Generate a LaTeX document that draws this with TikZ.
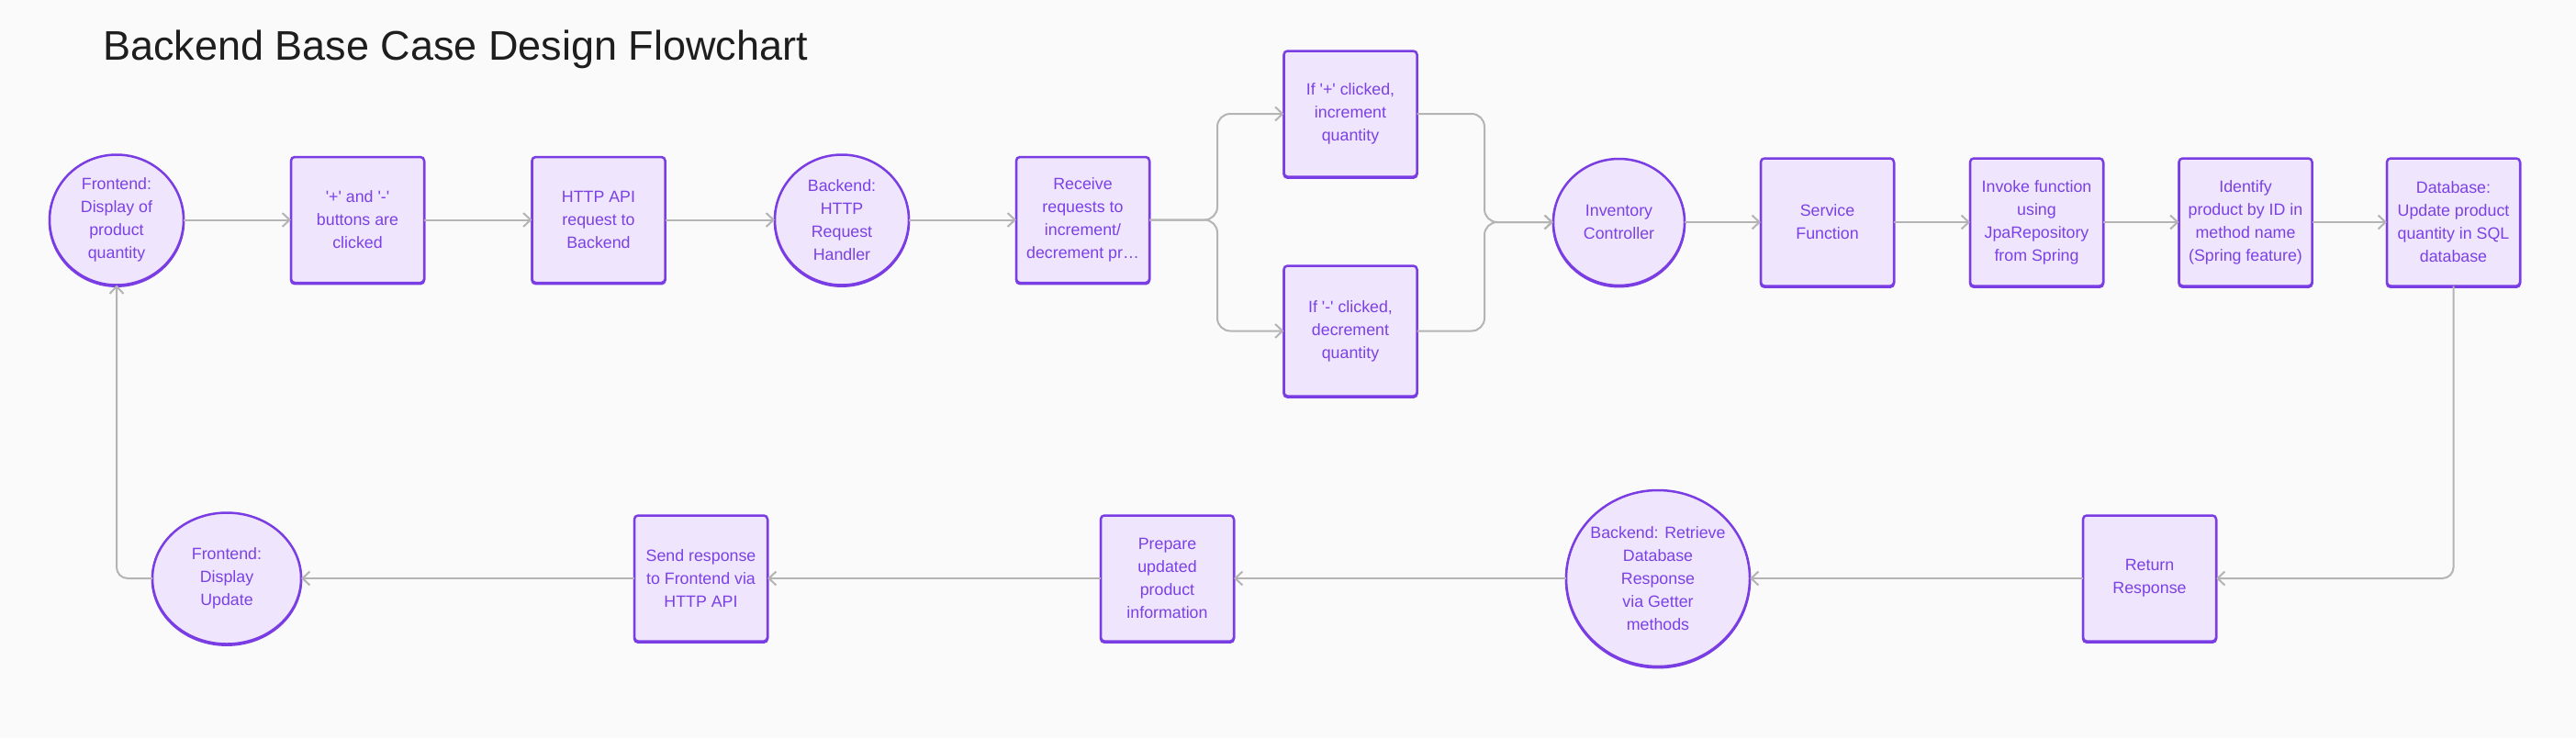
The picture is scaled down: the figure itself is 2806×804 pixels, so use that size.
\documentclass[tikz,border=0pt]{standalone}
\usepackage{fontspec}
\setmainfont{Liberation Sans}
\usetikzlibrary{arrows.meta,shapes.geometric}
\definecolor{bgc}{HTML}{FAFAFA}
\definecolor{pborder}{HTML}{7A3DE3}
\definecolor{pfill}{HTML}{EFE5FD}
\definecolor{ptext}{HTML}{7B41E5}
\definecolor{lineg}{HTML}{B4B4B4}
\definecolor{titlec}{HTML}{1E1E1E}
\newcommand{\sq}{\textquotesingle}
\begin{document}
\begin{tikzpicture}[x=1pt,y=-1pt,
  every node/.style={inner sep=0pt, outer sep=0pt},
  base/.style={draw=pborder, fill=pfill, line width=2.5pt, text=ptext, align=center,
    font=\fontsize{17.8}{25}\selectfont,
    preaction={draw=pborder, line width=2.5pt, transform canvas={yshift=-1.2pt}}},
  boxn/.style={base, rectangle, rounded corners=4pt, minimum width=145pt, minimum height=137pt},
  circn/.style={base, ellipse, minimum width=146pt, minimum height=142pt},
  conn/.style={draw=lineg, line width=2pt, -{Straight Barb[length=8pt,width=15pt]}},
]
\fill[bgc] (0,0) rectangle (2806,804);
\useasboundingbox (0,0) rectangle (2806,804);

\node[anchor=base west, font=\fontsize{45}{50}\selectfont, text=titlec] (title) at (112,65) {Backend Base Case Design Flowchart};

% top row
\node[circn] (fd) at (127,239.5) {Frontend:\\Display of\\product\\quantity};
\node[boxn] (b1) at (389.5,239.5) {\sq+\sq{} and \sq-\sq\\buttons are\\clicked};
\node[boxn] (b2) at (652,239.5) {HTTP API\\request to\\Backend};
\node[circn] (bh) at (917,239.5) {Backend:\\HTTP\\Request\\Handler};
\node[boxn] (rcv) at (1179.5,239.5) {Receive\\requests to\\increment/\\decrement pr…};
\node[boxn] (up) at (1471,124) {If \sq+\sq{} clicked,\\increment\\quantity};
\node[boxn, minimum height=142pt] (dn) at (1471,360.5) {If \sq-\sq{} clicked,\\decrement\\quantity};
\node[circn, minimum width=143pt, minimum height=138pt] (ic) at (1763.5,242) {Inventory\\Controller};
\node[boxn, minimum height=139pt] (sf) at (1990.5,242) {Service\\Function};
\node[boxn, minimum height=139pt] (inv) at (2218.5,242) {Invoke function\\using\\JpaRepository\\from Spring};
\node[boxn, minimum height=139pt] (idf) at (2446,242) {Identify\\product by ID in\\method name\\(Spring feature)};
\node[boxn, minimum height=139pt] (db) at (2672.5,242) {Database:\\Update product\\quantity in SQL\\database};

% bottom row
\node[boxn] (rr) at (2341.5,630) {Return\\Response};
\node[circn, inner xsep=-4pt, minimum width=200pt, minimum height=192pt] (br) at (1806,630) {Backend: Retrieve\\Database\\Response\\via Getter\\methods};
\node[boxn] (pr) at (1271.5,630) {Prepare\\updated\\product\\information};
\node[boxn] (sr) at (763.5,630) {Send response\\to Frontend via\\HTTP API};
\node[circn, minimum width=162pt, minimum height=143pt] (fu) at (247,630) {Frontend:\\Display\\Update};

\coordinate (sp) at (1326,239.5);
\coordinate (mg) at (1617,242);

% connectors
\draw[conn] (fd) -- (b1);
\draw[conn] (b1) -- (b2);
\draw[conn] (b2) -- (bh);
\draw[conn] (bh) -- (rcv);
\draw[conn, rounded corners=14pt] (rcv.east) -- (sp) |- (up.west);
\draw[conn, rounded corners=14pt] (rcv.east) -- (sp) |- (dn.west);
\draw[conn, rounded corners=14pt] (up.east) -| (mg) -- (ic.west);
\draw[conn, rounded corners=14pt] (dn.east) -| (mg) -- (ic.west);
\draw[conn] (ic) -- (sf);
\draw[conn] (sf) -- (inv);
\draw[conn] (inv) -- (idf);
\draw[conn] (idf) -- (db);
\draw[conn, rounded corners=12pt] (db.south) |- (rr.east);
\draw[conn] (rr) -- (br);
\draw[conn] (br) -- (pr);
\draw[conn] (pr) -- (sr);
\draw[conn] (sr) -- (fu);
\draw[conn, rounded corners=12pt] (fu.west) -| (fd.south);
\end{tikzpicture}
\end{document}
